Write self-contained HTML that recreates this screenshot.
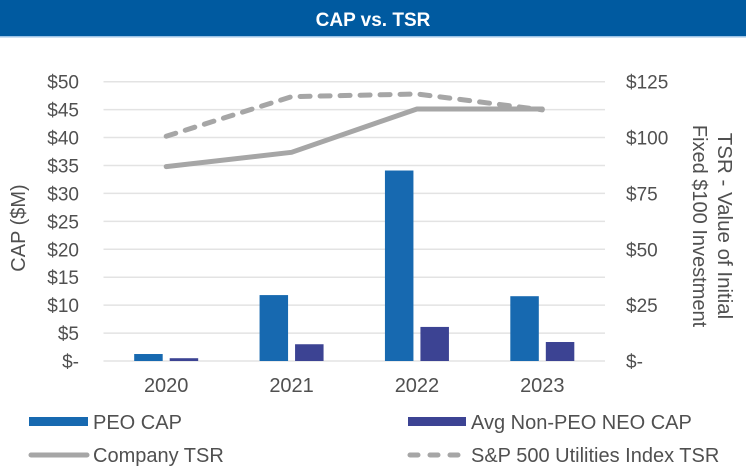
<!DOCTYPE html>
<html><head><meta charset="utf-8"><style>
html,body{margin:0;padding:0;background:#fff;}
svg text{font-family:"Liberation Sans",sans-serif;fill:#505050;}
</style></head><body>
<svg width="746" height="470" viewBox="0 0 746 470" xmlns="http://www.w3.org/2000/svg">
<rect x="0" y="0" width="746" height="36" fill="#005aa0"/>
<rect x="0" y="36" width="746" height="1.5" fill="#9cc3e6"/>
<text x="373" y="26" text-anchor="middle" font-size="19" font-weight="bold" style="fill:#fff">CAP vs. TSR</text>
<g id="grid"></g>
<g id="bars"></g>
<g id="lines"></g>
<g id="axes"></g>
<text transform="translate(25 228) rotate(-90)" text-anchor="middle" font-size="20">CAP ($M)</text>
<text transform="translate(718 226) rotate(90)" text-anchor="middle" font-size="20.5">TSR - Value of Initial</text>
<text transform="translate(693 226) rotate(90)" text-anchor="middle" font-size="20">Fixed $100 Investment</text>
<g>
<rect x="29" y="417" width="59" height="9" fill="#1769b0"/>
<text x="93" y="429" font-size="20">PEO CAP</text>
<rect x="408" y="417" width="58" height="9" fill="#3c4393"/>
<text x="471" y="429" font-size="20">Avg Non-PEO NEO CAP</text>
<line x1="31" y1="455" x2="87" y2="455" stroke="#a6a6a6" stroke-width="5" stroke-linecap="round"/>
<text x="93" y="462" font-size="20">Company TSR</text>
<line x1="410" y1="455" x2="462" y2="455" stroke="#a6a6a6" stroke-width="5" stroke-linecap="round" stroke-dasharray="8 12"/>
<text x="471" y="462" font-size="20">S&amp;P 500 Utilities Index TSR</text>
</g>
</svg>
<script>
const categories=["2020","2021","2022","2023"];
const peoCap=[1.25,11.8,34.1,11.6];
const neoCap=[0.5,3.0,6.1,3.4];
const companyTsr=[87,93.4,112.8,112.8];
const spTsr=[100.6,118.3,119.5,112.4];
const leftTicks=["$-","$5","$10","$15","$20","$25","$30","$35","$40","$45","$50"];
const leftTickVals=[0,5,10,15,20,25,30,35,40,45,50];
const rightTicks=["$-","$25","$50","$75","$100","$125"];
const rightTickVals=[0,25,50,75,100,125];

const NS="http://www.w3.org/2000/svg";
const X0=103.5,X1=605,Y0=361,Y1=81.7;
const bw=(X1-X0)/categories.length;
const yL=v=>Y0-(v/50)*(Y0-Y1);
const yR=v=>Y0-(v/125)*(Y0-Y1);
const xc=i=>X0+bw*(i+0.5);
function mk(tag,attrs,parent){const e=document.createElementNS(NS,tag);for(const k in attrs)e.setAttribute(k,attrs[k]);document.getElementById(parent).appendChild(e);return e;}
leftTickVals.forEach((v,i)=>{
  const l=mk('line',{x1:X0,x2:X1,y1:yL(v),y2:yL(v),stroke:'#e3e3e3','stroke-width':1.5},'grid');
  
  
  const t=mk('text',{x:79,y:yL(v)+7,'text-anchor':'end','font-size':19},'axes');
  t.textContent=leftTicks[i];
  
  
});
rightTickVals.forEach((v,i)=>{
  const t=mk('text',{x:626,y:yR(v)+7,'font-size':19},'axes');
  t.textContent=rightTicks[i];
  
  
});
const BW=28.5,GAP=7;
categories.forEach((c,i)=>{
  const cx=xc(i);
  const b1=mk('rect',{x:cx-GAP/2-BW,y:yL(peoCap[i]),width:BW,height:Y0-yL(peoCap[i]),fill:'#1769b0'},'bars');
  
  
  const b2=mk('rect',{x:cx+GAP/2,y:yL(neoCap[i]),width:BW,height:Y0-yL(neoCap[i]),fill:'#3c4393'},'bars');
  
  
  const t=mk('text',{x:cx,y:392,'text-anchor':'middle','font-size':20},'axes');
  t.textContent=c;
  
  
});
const pts=a=>a.map((v,i)=>xc(i)+','+yR(v)).join(' ');
const l1=mk('polyline',{points:pts(companyTsr),fill:'none',stroke:'#a6a6a6','stroke-width':5,'stroke-linecap':'round','stroke-linejoin':'round'},'lines');


const l2=mk('polyline',{points:pts(spTsr),fill:'none',stroke:'#a6a6a6','stroke-width':5,'stroke-linecap':'round','stroke-linejoin':'round','stroke-dasharray':'10 10'},'lines');


</script>
</body></html>
